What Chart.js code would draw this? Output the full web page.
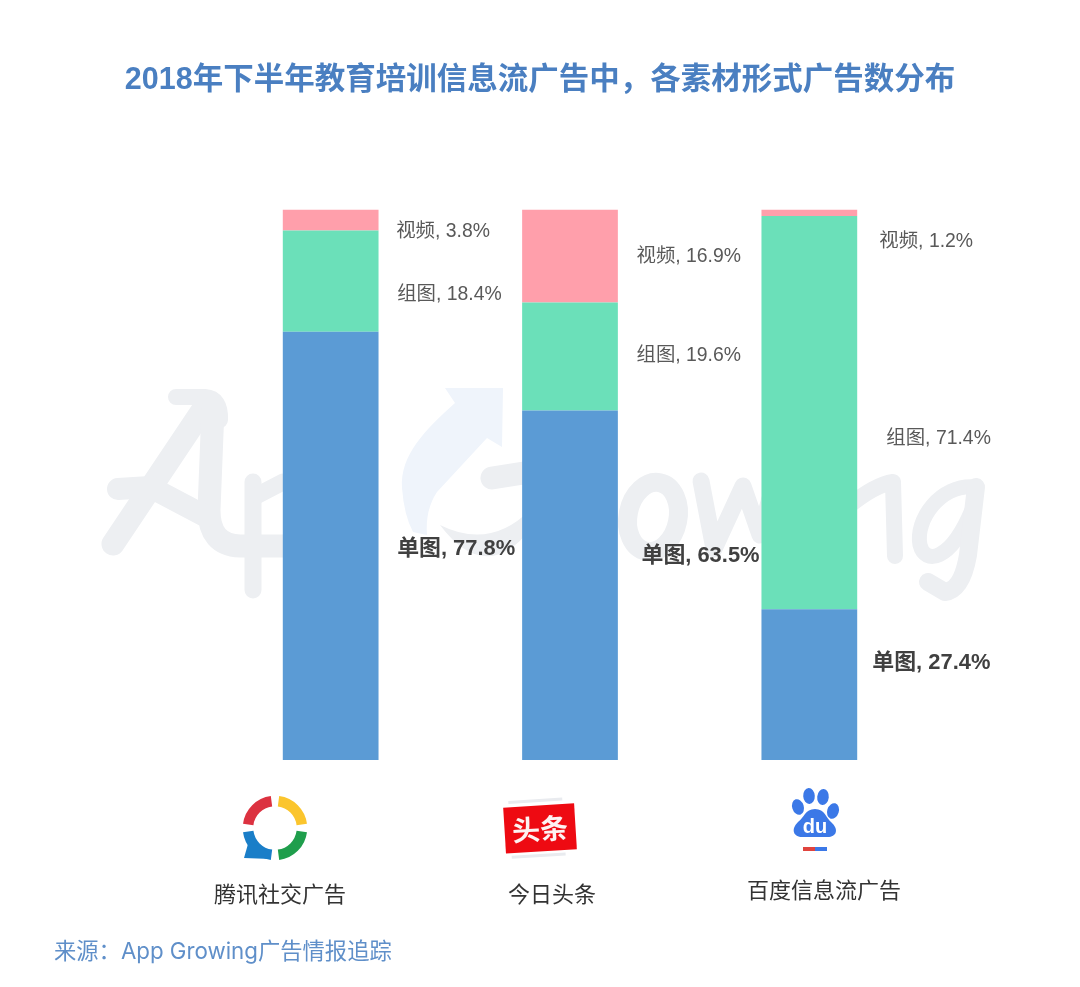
<!DOCTYPE html>
<html lang="zh">
<head>
<meta charset="utf-8">
<style>html,body{margin:0;padding:0;background:#fff}canvas{display:block}</style>
<script src="https://cdn.jsdelivr.net/npm/chart.js@4/dist/chart.umd.min.js"></script>
</head>
<body>
<canvas id="c" width="1080" height="987" style="width:1080px;height:987px"></canvas>
<script>
const categories = ['腾讯社交广告', '今日头条', '百度信息流广告'];
const seriesNames = ['单图', '组图', '视频'];
const singleImage = [77.8, 63.5, 27.4];
const multiImage = [18.4, 19.6, 71.4];
const video = [3.8, 16.9, 1.2];
const titleText = '2018年下半年教育培训信息流广告中，各素材形式广告数分布';
const sourceText = '来源：App Growing广告情报追踪';

const COLORS = ['#5b9bd5', '#6be0b9', '#ff9fab'];
const SANS = '"Liberation Sans","Noto Sans CJK SC",sans-serif';
// label offsets from each segment's centre: [dx, dy] per series per category
const labelOffsets = [
  [[66.5, 3], [71.5, -29], [63, -22]],
  [[66.5, 14], [66.5, -1], [77, 26]],
  [[65.5, 12], [66.5, 1], [70, 29]]
];
const catLabelPos = [[280, 894], [552, 894], [824, 890]];

function stroke(ctx, color, w, fn) {
  ctx.save();
  ctx.strokeStyle = color; ctx.lineWidth = w; ctx.lineCap = 'round'; ctx.lineJoin = 'round';
  ctx.beginPath(); fn(ctx); ctx.stroke(); ctx.restore();
}
function drawWatermark(ctx) {
  const g = '#edeff2', b = '#eff4fb';
  // A
  stroke(ctx, g, 16, c => { c.moveTo(176, 397); c.lineTo(205, 397); c.quadraticCurveTo(221, 398, 220, 420); });
  stroke(ctx, g, 23, c => { c.moveTo(206, 405); c.lineTo(113, 544); });
  stroke(ctx, g, 23, c => { c.moveTo(213, 408); c.lineTo(209, 510); c.quadraticCurveTo(209, 545, 240, 546); c.lineTo(283, 546); });
  stroke(ctx, g, 22, c => { c.moveTo(118, 489); c.lineTo(150, 487); c.lineTo(205, 516); });
  // p
  stroke(ctx, g, 17, c => { c.moveTo(253, 482); c.lineTo(253, 590); });
  stroke(ctx, g, 17, c => { c.moveTo(258, 495); c.lineTo(283, 482); });
  // arrow
  ctx.save(); ctx.fillStyle = b; ctx.beginPath();
  ctx.moveTo(503, 388); ctx.lineTo(445, 388); ctx.lineTo(455, 403);
  ctx.bezierCurveTo(425, 430, 400, 455, 402, 488);
  ctx.quadraticCurveTo(404, 515, 413, 532);
  ctx.lineTo(427, 535);
  ctx.quadraticCurveTo(425, 510, 437, 492);
  ctx.lineTo(487, 438); ctx.lineTo(502, 447);
  ctx.closePath(); ctx.fill();
  // G
  ctx.fillStyle = g; ctx.beginPath();
  ctx.moveTo(440, 525); ctx.quadraticCurveTo(485, 585, 530, 530);
  ctx.lineTo(530, 510); ctx.quadraticCurveTo(490, 550, 440, 525);
  ctx.closePath(); ctx.fill(); ctx.restore();
  stroke(ctx, g, 23, c => { c.moveTo(492, 478); c.lineTo(530, 472); });
  // o
  stroke(ctx, g, 19, c => { c.ellipse(653, 517, 25, 35, 0.2, 0, Math.PI * 2); });
  // w
  stroke(ctx, g, 17, c => { c.moveTo(701, 481); c.lineTo(714, 549); c.lineTo(743, 486); c.lineTo(760, 535); c.lineTo(775, 480); });
  // n
  stroke(ctx, g, 16, c => { c.moveTo(850, 505); c.quadraticCurveTo(875, 485, 893, 482); c.lineTo(895, 556); });
  // g
  stroke(ctx, g, 15, c => { c.moveTo(975, 487); c.bezierCurveTo(940, 484, 915, 520, 920, 545); c.bezierCurveTo(925, 565, 950, 562, 972, 510); });
  stroke(ctx, g, 18, c => { c.moveTo(976, 487); c.lineTo(968, 555); c.quadraticCurveTo(962, 590, 945, 592); c.lineTo(928, 582); });
}
function drawTencent(ctx) {
  const cx = 275, cy = 828, r = 27, w = 10.5, gap = 0.13;
  const arcs = [['#dc3240', Math.PI + gap, 1.5 * Math.PI - gap], ['#fbc52d', 1.5 * Math.PI + gap, 2 * Math.PI - gap],
                ['#1f9e4c', gap, 0.5 * Math.PI - gap], ['#1a7ec8', 0.5 * Math.PI + gap, Math.PI - gap]];
  arcs.forEach(([col, a, b]) => {
    ctx.save(); ctx.strokeStyle = col; ctx.lineWidth = w; ctx.lineCap = 'butt';
    ctx.beginPath(); ctx.arc(cx, cy, r, a, b); ctx.stroke(); ctx.restore();
  });
  ctx.save(); ctx.fillStyle = '#1a7ec8'; ctx.beginPath();
  ctx.moveTo(248, 844); ctx.lineTo(244, 858); ctx.lineTo(271, 859); ctx.lineTo(262, 846); ctx.closePath(); ctx.fill(); ctx.restore();
}
function drawToutiao(ctx) {
  ctx.save();
  ctx.translate(540, 828); ctx.rotate(-3.5 * Math.PI / 180);
  ctx.fillStyle = '#e9ebef';
  ctx.fillRect(-30, -29, 54, 3); ctx.fillRect(-30, 26, 54, 3);
  ctx.fillStyle = '#ee0a12'; ctx.fillRect(-35.5, -22.5, 71, 46);
  ctx.fillStyle = '#fdf2f2'; ctx.font = 'bold 28px "Noto Sans CJK SC"'; ctx.textAlign = 'center'; ctx.textBaseline = 'middle';
  ctx.fillText('头条', 0, 1);
  ctx.restore();
}
function drawBaidu(ctx) {
  ctx.save();
  ctx.fillStyle = '#3b78e7';
  [[798, 807, 5.8, 8, -0.3], [809, 796, 5.8, 8, -0.05], [823, 797, 5.8, 8, 0.1], [833, 811, 5.8, 8, 0.3]].forEach(e => {
    ctx.beginPath(); ctx.ellipse(e[0], e[1], e[2], e[3], e[4], 0, Math.PI * 2); ctx.fill();
  });
  ctx.beginPath();
  ctx.moveTo(815, 809);
  ctx.bezierCurveTo(825, 809, 826, 818, 831, 822);
  ctx.bezierCurveTo(840, 830, 836, 838, 826, 837);
  ctx.lineTo(804, 837);
  ctx.bezierCurveTo(794, 838, 790, 830, 798, 822);
  ctx.bezierCurveTo(804, 818, 805, 809, 815, 809);
  ctx.closePath(); ctx.fill();
  ctx.fillStyle = '#fff'; ctx.font = 'bold 20px "Liberation Sans"'; ctx.textAlign = 'center'; ctx.textBaseline = 'middle';
  ctx.fillText('du', 815, 827);
  ctx.fillStyle = '#e0443e'; ctx.fillRect(803, 847, 12, 4);
  ctx.fillStyle = '#3b78e7'; ctx.fillRect(815, 847, 12, 4);
  ctx.restore();
}

const decor = {
  id: 'decor',
  beforeDatasetsDraw(chart) { drawWatermark(chart.ctx); },
  afterDatasetsDraw(chart) {
    const ctx = chart.ctx;
    ctx.save();
    ctx.textBaseline = 'middle'; ctx.textAlign = 'left';
    chart.data.datasets.forEach((ds, s) => {
      const meta = chart.getDatasetMeta(s);
      ds.data.forEach((v, i) => {
        const el = meta.data[i];
        const mid = (el.y + el.base) / 2;
        const [dx, dy] = labelOffsets[s][i];
        ctx.font = (s === 0 ? 'bold 21.9px ' : '19.4px ') + SANS;
        ctx.fillStyle = s === 0 ? '#404040' : '#595959';
        ctx.fillText(ds.label + ', ' + v.toFixed(1) + '%', el.x + dx, mid + dy);
      });
    });
    drawTencent(ctx); drawToutiao(ctx); drawBaidu(ctx);
    ctx.textAlign = 'center'; ctx.fillStyle = '#333333'; ctx.font = '22px "Noto Sans CJK SC"';
    categories.forEach((t, i) => ctx.fillText(t, catLabelPos[i][0], catLabelPos[i][1]));
    ctx.fillStyle = '#4a7fc1'; ctx.font = 'bold 30.5px ' + SANS;
    ctx.fillText(titleText, 540, 81);
    ctx.textAlign = 'left'; ctx.fillStyle = '#5f8fc9'; ctx.font = '22.3px Inter,"Noto Sans CJK SC"';
    ctx.fillText(sourceText, 54, 952);
    ctx.restore();
  }
};

new Chart(document.getElementById('c'), {
  type: 'bar',
  data: {
    labels: categories,
    datasets: [singleImage, multiImage, video].map((d, i) => ({
      label: seriesNames[i], data: d, backgroundColor: COLORS[i], borderWidth: 0,
      barPercentage: 0.4, categoryPercentage: 1
    }))
  },
  options: {
    responsive: false, animation: false, devicePixelRatio: 1,
    layout: { padding: { left: 211, right: 151, top: 209.5, bottom: 227 } },
    plugins: { legend: { display: false }, tooltip: { enabled: false }, title: { display: false } },
    scales: {
      x: { stacked: true, display: false },
      y: { stacked: true, display: false, min: 0, max: 100 }
    }
  },
  plugins: [decor]
});
</script>
</body>
</html>
